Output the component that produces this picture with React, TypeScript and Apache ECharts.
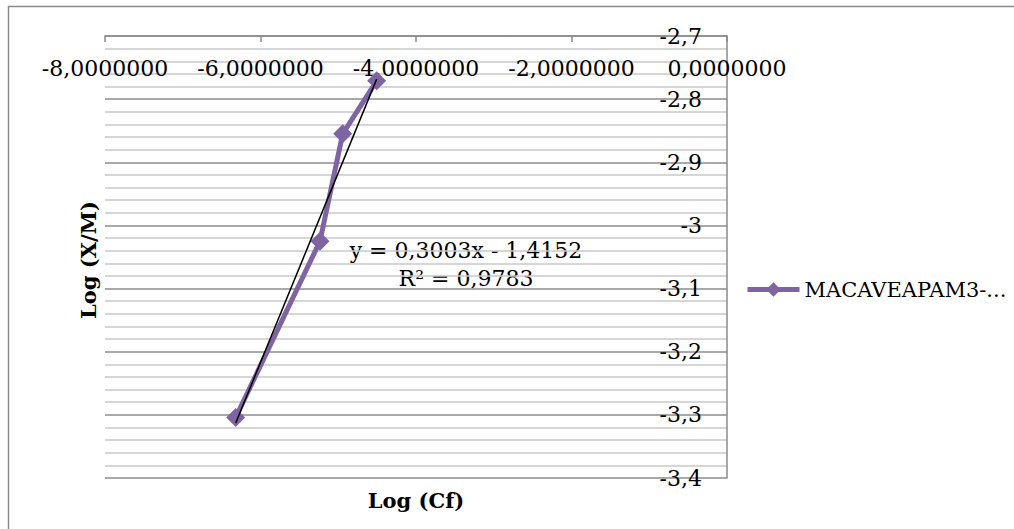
import React, { useEffect, useRef } from "react";
import * as echarts from "echarts";

const seriesName = "MACAVEAPAM3-...";
const logCf = [-6.319, -5.235, -4.943, -4.506];
const logXM = [-3.304, -3.025, -2.855, -2.771];
const trendSlope = 0.3003;
const trendIntercept = -1.4152;
const trendLabel = "y = 0,3003x - 1,4152";
const r2Label = "R² = 0,9783";
const xTitle = "Log (Cf)";
const yTitle = "Log (X/M)";

const FONT = "DejaVu Serif";

export default function App() {
  const ref = useRef<HTMLDivElement>(null);
  useEffect(() => {
    if (!ref.current) return;
    const chart = echarts.init(ref.current, null, { renderer: "svg" });
    const pts = logCf.map((x, i) => [x, logXM[i]]);
    const xmin = Math.min(...logCf);
    const xmax = Math.max(...logCf);
    const trend = [
      [xmin, trendSlope * xmin + trendIntercept],
      [xmax, trendSlope * xmax + trendIntercept],
    ];
    chart.setOption({
      animation: false,
      backgroundColor: "#fff",
      grid: { left: 105, right: 287, top: 36, bottom: 51, containLabel: false },
      xAxis: {
        type: "value",
        position: "top",
        min: -8,
        max: 0,
        interval: 2,
        axisLine: { show: true, onZero: false, lineStyle: { color: "#8a8a8a", width: 1.5 } },
        axisTick: { show: true, inside: true, length: 6, lineStyle: { color: "#8a8a8a", width: 1.5 } },
        axisLabel: {
          inside: true,
          margin: 21,
          color: "#000",
          fontFamily: FONT,
          fontSize: 22,
          formatter: (v: number) => v.toFixed(7).replace(".", ","),
        },
        splitLine: { show: false },
      },
      yAxis: {
        type: "value",
        position: "right",
        min: -3.4,
        max: -2.7,
        interval: 0.1,
        axisLine: { show: true, onZero: false, lineStyle: { color: "#8a8a8a", width: 1.5 } },
        axisTick: { show: false },
        axisLabel: {
          inside: true,
          margin: 25,
          color: "#000",
          fontFamily: FONT,
          fontSize: 22,
          formatter: (v: number) => String(Number(v.toFixed(1))).replace(".", ","),
        },
        splitLine: { show: true, lineStyle: { color: "#8c8c8c", width: 1.5 } },
        minorTick: { show: false, splitNumber: 5 },
        minorSplitLine: { show: true, lineStyle: { color: "#c8c8c8", width: 1.5 } },
      },
      legend: {
        show: true,
        data: [seriesName],
        left: 745,
        top: 279,
        padding: 0,
        orient: "vertical",
        itemWidth: 52,
        itemHeight: 18,
        itemGap: 10,
        lineStyle: { width: 5 },
        textStyle: { color: "#000", fontFamily: FONT, fontSize: 21 },
      },
      series: [
        {
          name: seriesName,
          type: "line",
          data: pts,
          symbol: "diamond",
          symbolSize: 19,
          lineStyle: { color: "#7f64a2", width: 5 },
          itemStyle: { color: "#7f64a2" },
          z: 2,
        },
        {
          name: "trend",
          type: "line",
          data: trend,
          symbol: "none",
          silent: true,
          lineStyle: { color: "#000", width: 1.5 },
          z: 3,
        },
      ],
      graphic: [
        {
          type: "rect",
          shape: { x: 8.5, y: 6.5, width: 1020, height: 540 },
          style: { fill: "none", stroke: "#8a8a8a", lineWidth: 1.5 },
          silent: true,
        },
        {
          type: "text",
          x: 466,
          y: 250,
          style: {
            text: trendLabel,
            fill: "#000",
            font: `22px "${FONT}"`,
            align: "center",
            verticalAlign: "middle",
          },
        },
        {
          type: "text",
          x: 466,
          y: 278,
          style: {
            text: r2Label,
            fill: "#000",
            font: `22px "${FONT}"`,
            align: "center",
            verticalAlign: "middle",
          },
        },
        {
          type: "text",
          x: 416,
          y: 500,
          style: {
            text: xTitle,
            fill: "#000",
            font: `bold 21px "${FONT}"`,
            align: "center",
            verticalAlign: "middle",
          },
        },
        {
          type: "text",
          x: 88,
          y: 260,
          rotation: Math.PI / 2,
          style: {
            text: yTitle,
            fill: "#000",
            font: `bold 21px "${FONT}"`,
            align: "center",
            verticalAlign: "middle",
          },
        },
      ],
    });
    return () => chart.dispose();
  }, []);
  return (
    <div
      ref={ref}
      style={{ position: "absolute", left: 0, top: 0, width: 1014, height: 529 }}
    />
  );
}
